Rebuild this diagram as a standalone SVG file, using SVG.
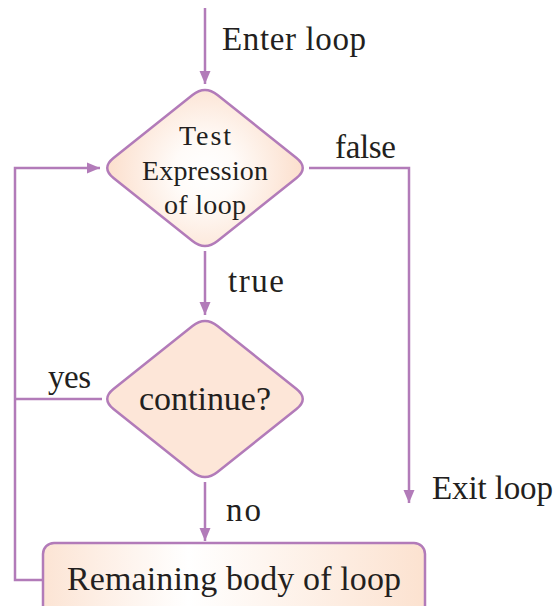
<svg xmlns="http://www.w3.org/2000/svg" width="559" height="606" viewBox="0 0 559 606">
<style>
.ln{fill:none;stroke:#B27BB9;stroke-width:2.5}
.nd{stroke:#B27BB9;stroke-width:2.5}
.t{font-family:"Liberation Serif","Times New Roman",serif;fill:#231F20}
</style>
<defs>
<marker id="ah" markerUnits="userSpaceOnUse" markerWidth="14" markerHeight="14" viewBox="0 0 14 14" refX="13" refY="7" orient="auto">
<path d="M0,1.5 L13,7 L0,12.5 Z" fill="#B27BB9"/>
</marker>
<radialGradient id="g1" gradientUnits="userSpaceOnUse" cx="205" cy="172" r="105">
<stop offset="0" stop-color="#FFFFFF"/>
<stop offset="0.3" stop-color="#FFFBF8"/>
<stop offset="1" stop-color="#FBDCC8"/>
</radialGradient>
<radialGradient id="g2" gradientUnits="userSpaceOnUse" cx="205" cy="445" r="150">
<stop offset="0" stop-color="#FAD6C2"/>
<stop offset="0.18" stop-color="#FFFFFF"/>
<stop offset="0.4" stop-color="#FEF3EC"/>
<stop offset="1" stop-color="#FDE6D8"/>
</radialGradient>
<linearGradient id="g3" x1="0" y1="0" x2="1" y2="0">
<stop offset="0" stop-color="#FCE4D4"/>
<stop offset="0.38" stop-color="#FFFFFF"/>
<stop offset="1" stop-color="#FCE2D0"/>
</linearGradient>
<path id="dia" d="M192.5,95 Q205,85 217.5,95 L296.5,158 Q309,168 296.5,178 L217.5,241 Q205,251 192.5,241 L113.5,178 Q101,168 113.5,158 Z"/>
</defs>
<g id="connectors">
<path class="ln" d="M205,8 V84" marker-end="url(#ah)"/>
<path class="ln" d="M205,251 V315" marker-end="url(#ah)"/>
<path class="ln" d="M205,482 V541" marker-end="url(#ah)"/>
<path class="ln" d="M309,168 H409 V503" marker-end="url(#ah)"/>
<path class="ln" d="M43,580 H15 V168 H100" marker-end="url(#ah)"/>
<path class="ln" d="M102,399 H15"/>
</g>
<g id="test">
<use href="#dia" class="nd" fill="url(#g1)"/>
<text class="t" font-size="28" text-anchor="middle" x="205" y="145" textLength="52">Test</text>
<text class="t" font-size="28" text-anchor="middle" x="205" y="180" textLength="126">Expression</text>
<text class="t" font-size="28" text-anchor="middle" x="205" y="214" textLength="82">of loop</text>
</g>
<g id="continue">
<use href="#dia" class="nd" fill="url(#g2)" transform="translate(0,231)"/>
<text class="t" font-size="34" text-anchor="middle" x="205" y="410" textLength="132">continue?</text>
</g>
<g id="body">
<rect class="nd" x="43" y="543" width="382" height="75" rx="11" fill="url(#g3)"/>
<text class="t" font-size="34" x="67" y="590" textLength="334">Remaining body of loop</text>
</g>
<g id="labels">
<text class="t" font-size="33" x="222" y="50" textLength="144">Enter loop</text>
<text class="t" font-size="33" x="335" y="158" textLength="61">false</text>
<text class="t" font-size="33" x="228" y="292" textLength="56">true</text>
<text class="t" font-size="33" x="48" y="388" textLength="43">yes</text>
<text class="t" font-size="33" x="226" y="521" textLength="35">no</text>
<text class="t" font-size="33" x="432" y="499" textLength="121">Exit loop</text>
</g>
</svg>
